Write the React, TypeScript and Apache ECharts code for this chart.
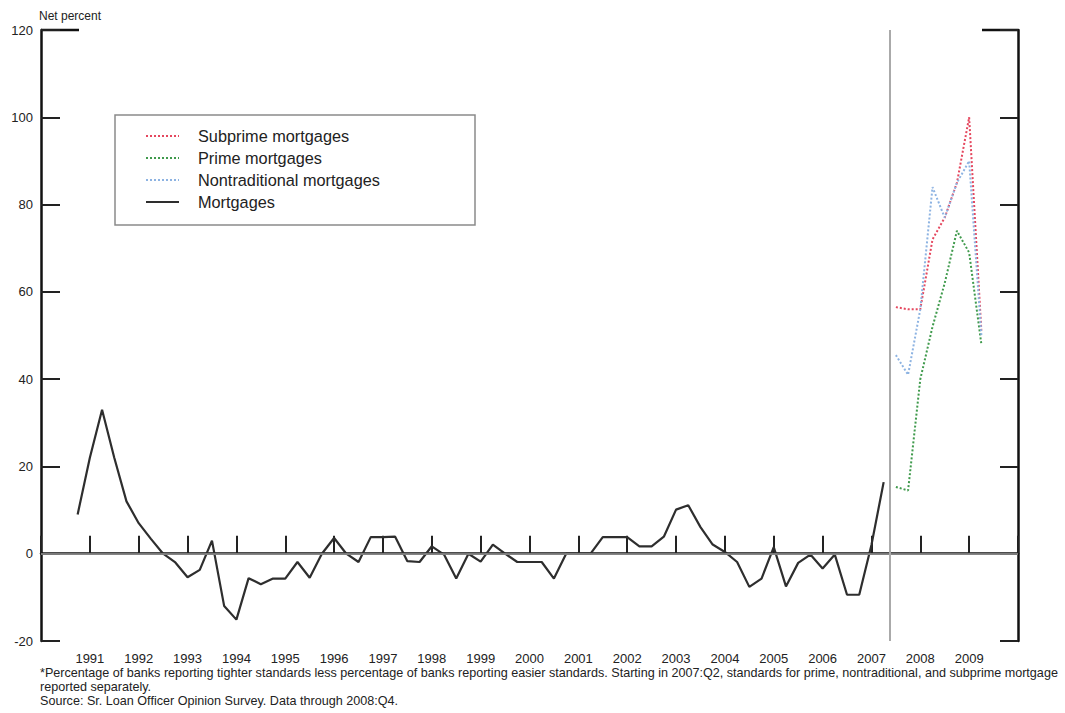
import React, { useEffect, useRef } from "react";
import * as echarts from "echarts";

// Quarterly data, plotted at quarter end (decimal years)
const mortgageStart = 1990.75; // first point 1990:Q3
const mortgages = [
  9, 22,
  33, 22, 12, 7,
  3.4, 0, -2, -5.4,
  -3.7, 3, -12, -15.1,
  -5.6, -7, -5.7, -5.7,
  -1.9, -5.5, 0, 3.6,
  0, -1.9, 3.8, 3.8,
  3.9, -1.7, -1.9, 1.7,
  -0.2, -5.7, 0, -1.8,
  2.1, 0, -1.9, -1.9,
  -1.9, -5.7, 0, 0,
  0, 3.8, 3.8, 3.8,
  1.7, 1.7, 3.9, 10.1,
  11.1, 6.1, 2.1, 0.4,
  -1.9, -7.6, -5.7, 1.5,
  -7.5, -2.1, -0.2, -3.4,
  -0.2, -9.4, -9.4, 2,
  16.4,
];

const splitStart = 2007.5; // 2007:Q2
const subprime = [56.5, 56, 56, 72, 77, 85, 100, 51];
const prime = [15.3, 14.5, 40, 52, 62, 74, 69, 48];
const nontraditional = [45.5, 41, 56, 84, 77, 85, 90, 50];

const splitDate = 2007.375;
const xMin = 1990;
const xMax = 2010;
const yMin = -20;
const yMax = 120;
const yStep = 20;

const seriesNames = [
  "Subprime mortgages",
  "Prime mortgages",
  "Nontraditional mortgages",
  "Mortgages",
];
const seriesColors = ["#e5475e", "#3f9a4c", "#8db3e2", "#2e2e2e"];

const axisTitle = "Net percent";
const footnotes = [
  "*Percentage of banks reporting tighter standards less percentage of banks reporting easier standards. Starting in 2007:Q2, standards for prime, nontraditional, and subprime mortgage",
  "reported separately.",
  "Source: Sr. Loan Officer Opinion Survey. Data through 2008:Q4.",
];

const toPairs = (start: number, vals: number[]) =>
  vals.map((v, i) => [start + i * 0.25, v]);

const FONT = "'Liberation Sans', Arial, sans-serif";

export default function App() {
  const ref = useRef<HTMLDivElement>(null);

  useEffect(() => {
    if (!ref.current) return;
    const chart = echarts.init(ref.current, undefined, { renderer: "svg" });

    const dotted = (name: string, color: string, vals: number[]) => ({
      name,
      type: "line",
      data: toPairs(splitStart, vals),
      symbol: "none",
      z: 3,
      lineStyle: { color, width: 2, type: "dotted" },
      itemStyle: { color },
    });

    chart.setOption({
      animation: false,
      textStyle: { fontFamily: FONT },
      grid: { left: 41, right: 47, top: 30, bottom: 72 },
      legend: {
        data: seriesNames,
        orient: "vertical",
        left: 145,
        top: 128,
        itemWidth: 33,
        itemHeight: 14,
        itemGap: 6,
        padding: 0,
        itemStyle: { opacity: 0 },
        lineStyle: { inherit: true },
        textStyle: {
          fontSize: 16.3,
          lineHeight: 16,
          color: "#222",
          fontFamily: FONT,
          padding: [0, 0, 0, 14],
        },
      },
      xAxis: {
        type: "value",
        min: xMin,
        max: xMax,
        interval: 1,
        axisLine: { show: true, lineStyle: { color: "#111", width: 2.5 } },
        axisTick: { show: true, inside: true, length: 18, lineStyle: { color: "#222", width: 2 } },
        axisLabel: {
          fontSize: 13,
          color: "#222",
          margin: 11,
          formatter: (v: number) => (v > xMin && v < xMax ? String(v) : ""),
        },
        splitLine: { show: false },
      },
      yAxis: [
        {
          type: "value",
          min: yMin,
          max: yMax,
          interval: yStep,
          name: axisTitle,
          nameLocation: "end",
          nameGap: 8,
          nameTextStyle: { fontSize: 12, color: "#222", align: "left", padding: [0, 0, 0, -2] },
          axisLine: { show: true, lineStyle: { color: "#111", width: 2.5 } },
          axisTick: { show: true, inside: true, length: 19, lineStyle: { color: "#222", width: 2 } },
          axisLabel: { fontSize: 13, color: "#222", margin: 8 },
          splitLine: { show: false },
        },
        {
          type: "value",
          position: "right",
          min: yMin,
          max: yMax,
          interval: yStep,
          axisLine: { show: true, lineStyle: { color: "#111", width: 2.5 } },
          axisTick: { show: true, inside: true, length: 18, lineStyle: { color: "#222", width: 2 } },
          axisLabel: { show: false },
          splitLine: { show: false },
        },
      ],
      series: [
        {
          name: "refs",
          type: "line",
          data: [],
          z: 1,
          markLine: {
            silent: true,
            symbol: "none",
            label: { show: false },
            data: [
              { yAxis: 0, lineStyle: { color: "#999", width: 1.5, type: "solid" } },
              { xAxis: splitDate, lineStyle: { color: "#aaa", width: 2, type: "solid" } },
            ],
          },
        },
        dotted(seriesNames[0], seriesColors[0], subprime),
        dotted(seriesNames[1], seriesColors[1], prime),
        dotted(seriesNames[2], seriesColors[2], nontraditional),
        {
          name: seriesNames[3],
          type: "line",
          data: toPairs(mortgageStart, mortgages),
          symbol: "none",
          z: 3,
          lineStyle: { color: seriesColors[3], width: 2.2 },
          itemStyle: { color: seriesColors[3] },
        },
      ],
      graphic: [
        {
          type: "rect",
          shape: { x: 115, y: 115, width: 360, height: 110 },
          style: { fill: "none", stroke: "#8a8a8a", lineWidth: 1.5 },
          z: 0,
        },
        {
          type: "line",
          shape: { x1: 41, y1: 30, x2: 79, y2: 30 },
          style: { stroke: "#111", lineWidth: 2.5 },
        },
        {
          type: "line",
          shape: { x1: 982, y1: 30, x2: 1018, y2: 30 },
          style: { stroke: "#111", lineWidth: 2.5 },
        },
        ...footnotes.map((t, i) => ({
          type: "text",
          left: 40,
          top: 666 + i * 14,
          style: { text: t, fontSize: 12.6, fill: "#222", fontFamily: FONT },
        })),
      ],
    });

    return () => chart.dispose();
  }, []);

  return (
    <div
      ref={ref}
      style={{ position: "fixed", left: 0, top: 0, width: 1065, height: 713, background: "#fff" }}
    />
  );
}
